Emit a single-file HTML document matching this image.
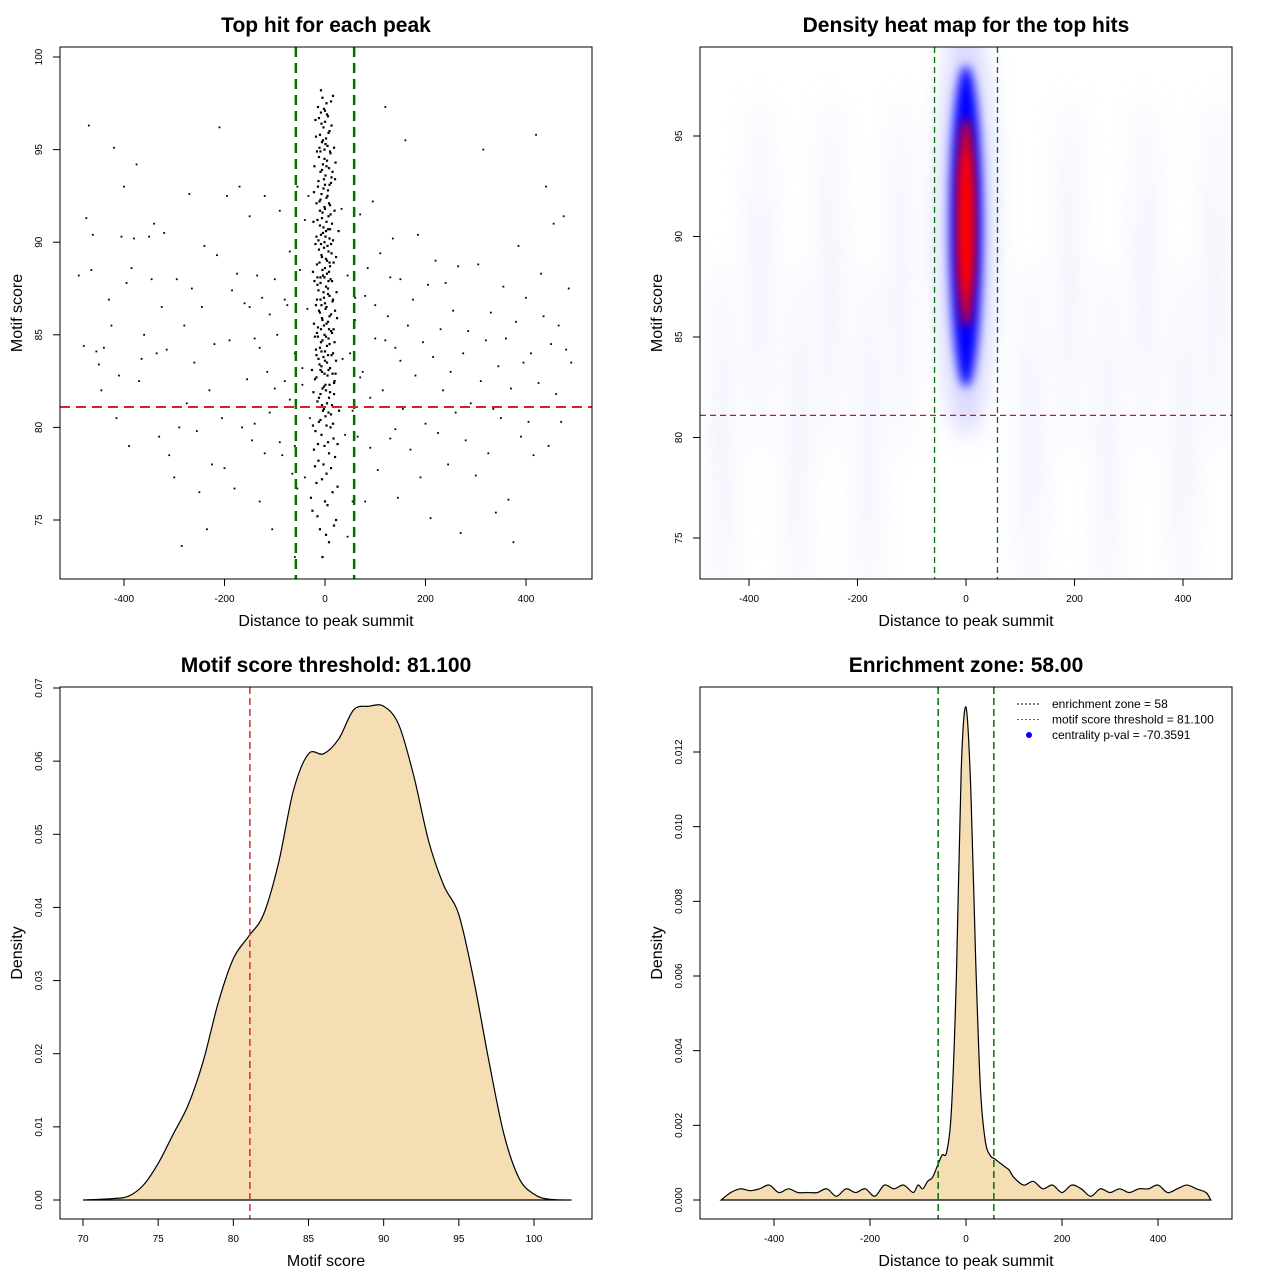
<!DOCTYPE html>
<html><head><meta charset="utf-8"><style>
body{margin:0;background:#fff;}
svg text{font-family:"Liberation Sans",sans-serif;}
</style></head><body>
<svg id="chart" width="1280" height="1280" viewBox="0 0 1280 1280" xmlns="http://www.w3.org/2000/svg">
<defs>
<filter id="blur1" x="-100%" y="-100%" width="300%" height="300%"><feGaussianBlur stdDeviation="5"/></filter>
<filter id="blur2" x="-100%" y="-100%" width="300%" height="300%"><feGaussianBlur stdDeviation="12"/></filter>
<clipPath id="clip2"><rect x="700" y="47" width="532" height="532"/></clipPath>
</defs>
<rect width="1280" height="1280" fill="#fff"/>
<g id="root"></g>
</svg>
<script>
// ---------- Data ----------
const scatterBg = "-490 88.2,-480 84.4,-475 91.3,-470 96.3,-465 88.5,-462 90.4,-455 84.1,-450 83.4,-445 82,-440 84.3,-430 86.9,-425 85.5,-420 95.1,-415 80.5,-410 82.8,-405 90.3,-400 93,-395 87.8,-390 79,-385 88.6,-380 90.2,-375 94.2,-370 82.5,-365 83.7,-360 85,-350 90.3,-345 88,-340 91,-335 84,-330 79.5,-325 86.5,-320 90.5,-315 84.2,-310 78.5,-300 77.3,-295 88,-290 80,-285 73.6,-280 85.5,-275 81.3,-270 92.6,-265 87.5,-260 83.5,-255 79.8,-250 76.5,-245 86.5,-240 89.8,-235 74.5,-230 82,-225 78,-220 84.5,-215 89.3,-210 96.2,-205 80.5,-200 77.8,-195 92.5,-190 84.7,-185 87.4,-180 76.7,-175 88.3,-170 93,-165 80,-160 86.7,-155 82.6,-150 91.4,-145 79.3,-140 84.8,-135 88.2,-130 76,-125 87,-120 92.5,-115 83,-110 80.8,-105 74.5,-100 88,-95 85,-90 91.7,-85 78.5,-80 82.5,-75 86.6,-70 89.5,-65 77.5,-60 84,-55 93,60 87,65 79.5,70 91.5,75 83,80 76,85 88.6,90 81.6,95 92.2,100 84.8,105 77.7,110 89.4,115 82,120 97.3,125 86,130 79.4,135 90.2,140 84.3,145 76.2,150 88,155 81,160 95.5,165 85.5,170 78.8,175 86.9,180 82.8,185 90.4,190 77.3,195 84.6,200 80.2,205 87.7,210 75.1,215 83.8,220 89,225 79.7,230 85.3,235 82,240 87.8,245 78,250 83,255 86.3,260 80.8,265 88.7,270 74.3,275 84,280 79.3,285 85.2,290 81.3,300 77.4,305 88.8,310 82.5,315 95,320 84.7,325 78.6,330 86.2,335 81,340 75.4,345 83.3,350 80.5,355 87.6,360 84.8,365 76.1,370 82.1,375 73.8,380 85.7,385 89.8,390 79.5,395 83.5,400 87,405 80.3,410 84,415 78.5,420 95.8,425 82.4,430 88.3,435 86,440 93,445 79,450 84.5,455 91,460 81.8,465 85.5,470 80.3,475 91.4,480 84.2,485 87.5,490 83.5,-150 86.5,-140 80.2,-130 84.3,-120 78.6,-110 86.1,-100 82.1,-90 79.2,-80 86.9,-70 81.5,-60 79,-50 88.5,-45 83.2,-40 77.3,-35 86.4,-30 80.5,-40 91.2,-45 82.3,35 83.7,40 79.6,45 88.2,50 84,55 80.9,60 85.8,70 82.7,80 87.1,90 78.9,100 86.6,110 81.1,120 84.7,130 88.1,140 79.9,150 83.6,-55 76.7,55 76,-33 92.5,33 91.8,-60 73,45 74.1";
const scatterCenter = "-5 97.8,3 97.5,-8 97,6 96.8,0 96.5,-3 96.2,9 96,-10 95.8,2 95.6,-6 95.4,5 95.2,-1 95,11 94.8,-12 94.6,4 94.4,-4 94.2,8 94,-9 93.8,1 93.6,-2 93.4,12 93.2,-14 93,6 92.8,-7 92.6,3 92.4,-11 92.2,10 92,0 91.8,-5 91.6,7 91.4,-15 91.2,14 91,-3 90.8,2 90.6,-8 90.4,9 90.2,-1 90,5 89.8,-12 89.6,13 89.4,-6 89.2,4 89,-16 88.8,0 88.6,8 88.4,-4 88.2,11 88,-9 87.8,2 87.6,-13 87.4,6 87.2,-2 87,15 86.8,-7 86.6,1 86.4,-10 86.2,9 86,-5 85.8,3 85.6,-14 85.4,12 85.2,-1 85,7 84.8,-8 84.6,4 84.4,-18 84.2,16 84,-3 83.8,0 83.6,-11 83.4,10 83.2,-6 83,5 82.8,-20 82.6,18 82.4,-2 82.2,2 82,-9 81.8,8 81.6,-15 81.4,14 81.2,-4 80.9,1 80.6,-12 80.3,11 80,-7 79.6,6 79.2,-22 78.8,20 78.4,-3 78,3 77.5,-17 77,15 76.5,0 76,-25 75.5,22 75,-10 74.5,8 73.8,-5 73,-2 97.2,4 96.9,-7 96.4,7 95.9,-4 95.5,1 95.3,-11 95.1,10 94.9,-1 94.5,3 94.1,-6 93.9,13 93.5,-13 93.3,0 93.1,-3 92.9,5 92.5,-9 92.3,8 92.1,-1 91.9,11 91.5,-6 91.3,3 91.1,-10 90.9,6 90.7,-4 90.5,1 90.3,-13 90.1,12 89.9,-2 89.7,7 89.5,-7 89.3,2 89.1,-11 88.9,10 88.7,-5 88.5,4 88.3,-1 88.1,14 87.9,-15 87.7,6 87.5,-3 87.3,9 87.1,-9 86.9,0 86.7,3 86.5,-12 86.3,12 86.1,-6 85.9,6 85.7,-2 85.5,17 85.3,-16 85.1,2 84.9,-5 84.7,9 84.5,-10 84.3,0 84.1,13 83.9,-13 83.7,4 83.5,-7 83.3,7 83.1,-1 82.9,-17 82.7,19 82.5,1 82.3,-5 82.1,10 81.9,-12 81.6,4 81.3,-2 81,12 80.7,-9 80.4,3 80.1,-19 79.8,17 79.4,-1 79,8 78.6,-13 78.2,12 77.8,-6 77.2,25 76.8,-28 76.2,5 75.8,-15 75.2,18 74.7,2 74.2,-20 77.9,28 80.9,-26 83.1,24 85.9,-24 88.4,27 90.6,-22 92.7,21 94.3,-19 96.6,16 97.9,-8 98.2,0 97.1,-18 95.7,18 95.1,-21 94.1,20 93.4,-17 92.1,19 91.7,-23 91.1,22 89.2,-19 89.9,17 88.9,-21 87.9,23 87.3,-18 86.6,20 86.3,-22 85.6,19 84.6,-20 84.9,22 83.6,-17 83.9,21 82.9,-23 81.9,18 81.8,-14 79.1,16 80.2,-24 80.1,25 79.1,-16 94.9,15 93.8,-17 90.3,16 90.1,-15 88.1,16 86.9,-16 86.9,14 85.1,-14 84.9,15 82.9,-12 96.7,13 96.3,-14 97.3,12 97.6,-9 94.9,9 93.1,-10 91.7,10 90.7,-8 89.9,9 88.9,-9 88.1,7 87.9,-8 85.3,8 85.3,-7 84.1,6 83.9,-9 83.1,9 82.3,-6 81.2,7 80.8";
const scoreX = [70,72,73,74,75,76,77,78,79,80,81,82,83,84,85,86,87,88,89,90,91,92,93,94,95,96,97,98,99,100,101,102.5];
const scoreD = [0,0.0002,0.0005,0.002,0.005,0.009,0.013,0.019,0.027,0.033,0.036,0.039,0.046,0.056,0.061,0.061,0.063,0.067,0.0675,0.0675,0.065,0.058,0.049,0.043,0.039,0.030,0.019,0.009,0.003,0.0008,0.0001,0];
const distX = [-510,-490,-470,-450,-430,-410,-390,-370,-350,-330,-310,-290,-270,-250,-230,-210,-190,-170,-150,-130,-110,-100,-90,-80,-70,-60,-50,-40,-30,-20,-10,0,10,20,30,40,50,60,70,80,90,100,120,140,160,180,200,220,240,260,280,300,320,340,360,380,400,420,440,460,480,500,510];
const distD = [0,0.0002,0.0003,0.00025,0.0003,0.0004,0.0002,0.0003,0.0002,0.0002,0.0002,0.0003,0.0001,0.0003,0.0002,0.0003,0.0001,0.0004,0.0003,0.0004,0.0002,0.0004,0.0003,0.0005,0.0006,0.0009,0.0012,0.0013,0.0025,0.006,0.0115,0.0132,0.011,0.0065,0.003,0.0016,0.0012,0.0011,0.001,0.0009,0.0008,0.0006,0.0004,0.0005,0.0003,0.0004,0.0002,0.0004,0.0003,0.0001,0.0003,0.0002,0.0003,0.0002,0.0003,0.0003,0.0004,0.0002,0.0003,0.0004,0.0003,0.0002,0];
const heatBlobs = [ // [x, y, rx(units), ry(units), color, opacity, blurKind]
 [0,90.5,50,10.5,"#c0c0ff",0.7,2],[0,90.5,30,8,"#0000ff",1,1],[0,90.7,16,5.2,"#ff0000",1,1],[0,90.7,8,3.5,"#ff0000",1,1]];
const bgStreaks = [-450,-380,-310,-250,-180,-120,120,190,260,330,400,460];
const xTicks1=[-400,-200,0,200,400], yTicks1=[75,80,85,90,95,100];
const yTicks2=[75,80,85,90,95];
const xTicks3=[70,75,80,85,90,95,100], yTicks3=[0,0.01,0.02,0.03,0.04,0.05,0.06,0.07];
const yTicks4=[0,0.002,0.004,0.006,0.008,0.010,0.012];
const yLab4=["0.000","0.002","0.004","0.006","0.008","0.010","0.012"];
const yLab3=["0.00","0.01","0.02","0.03","0.04","0.05","0.06","0.07"];

// ---------- Helpers ----------
const NS="http://www.w3.org/2000/svg";
const root=document.getElementById('root');
function el(tag,attrs,parent){const e=document.createElementNS(NS,tag);for(const k in attrs)e.setAttribute(k,attrs[k]);(parent||root).appendChild(e);return e;}
function txt(s,x,y,size,opts,parent){const t=el('text',Object.assign({x:x,y:y,'font-size':size,'text-anchor':'middle',fill:'#000'},opts||{}),parent);t.textContent=s;return t;}
function lin(d0,d1,p0,p1){return v=>p0+(v-d0)/(d1-d0)*(p1-p0);}
function parsePairs(s){return s.split(',').map(p=>p.trim().split(' ').map(Number));}

function panel(name,L,T,title,xlabel,ylabel,sx,sy,xt,xlab,yt,ylab){
  const g=el('g',{});
  
  
  const t=txt(title,L+266,T-15,21,{'font-weight':'bold'},g);
  
  
  const xl=txt(xlabel,L+266,T+579,16,{},g);
  
  
  const yl=txt(ylabel,0,0,16,{transform:`translate(${L-38},${T+266}) rotate(-90)`},g);
  
  
  xt.forEach((v,i)=>{const x=sx(v);el('line',{x1:x,x2:x,y1:T+532,y2:T+539,stroke:'#000'},g);
    const tl=txt(xlab?xlab[i]:String(v),x,T+555,10,{},g);
    
    });
  yt.forEach((v,i)=>{const y=sy(v);el('line',{x1:L-7,x2:L,y1:y,y2:y,stroke:'#000'},g);
    const tl=txt(ylab?ylab[i]:String(v),0,0,10,{transform:`translate(${L-18},${y}) rotate(-90)`},g);
    
    });
  return g;
}
function frame(L,T,g){const r=el('rect',{x:L,y:T,width:532,height:532,fill:'none',stroke:'#000','stroke-width':1},g);
  
  }

// ---------- Panel 1 ----------
{const L=60,T=47;
 const sx=lin(0,400,325,526), sy=lin(100,75,57,520);
 const g=panel('scatter-panel',L,T,'Top hit for each peak','Distance to peak summit','Motif score',sx,sy,xTicks1,null,yTicks1,null);
 parsePairs(scatterBg).forEach(p=>{const c=el('rect',{x:sx(p[0])-0.9,y:sy(p[1])-0.9,width:1.8,height:1.8,fill:'#000'},g);
   
   });
 parsePairs(scatterCenter).forEach(p=>{const c=el('rect',{x:sx(p[0])-1.1,y:sy(p[1])-1.1,width:2.2,height:2.2,fill:'#000'},g);
   
   });
 [-58,58].forEach(v=>{const l=el('line',{x1:sx(v),x2:sx(v),y1:T,y2:T+532,stroke:'#007000','stroke-width':2.5,'stroke-dasharray':'10,6'},g);
   
   });
 const h=el('line',{x1:L,x2:L+532,y1:sy(81.1),y2:sy(81.1),stroke:'#e02020','stroke-width':2,'stroke-dasharray':'10,6'},g);
 
 
 frame(L,T,g);}

// ---------- Panel 2 ----------
{const L=700,T=47;
 const sx=lin(0,400,966,1183), sy=lin(95,75,136,538);
 const g=panel('heatmap-panel',L,T,'Density heat map for the top hits','Distance to peak summit','Motif score',sx,sy,xTicks1,null,yTicks2,null);
 const hg=el('g',{'clip-path':'url(#clip2)'},g);
 
 
 bgStreaks.forEach((v,i)=>{const e=el('ellipse',{cx:sx(v),cy:sy(i%2?88:80),rx:12,ry:180,fill:'#e8e8ff',opacity:0.55,filter:'url(#blur2)'},hg);
   
   });
 heatBlobs.forEach(b=>{const e=el('ellipse',{cx:sx(b[0]),cy:sy(b[1]),rx:sx(b[2])-sx(0),ry:sy(0)-sy(b[3]),fill:b[4],opacity:b[5],filter:b[6]==2?'url(#blur2)':'url(#blur1)'},hg);
   
   });
 [-58,58].forEach(v=>{const l=el('line',{x1:sx(v),x2:sx(v),y1:T,y2:T+532,stroke:'#007000','stroke-width':1.3,'stroke-dasharray':'6,4'},g);
   
   });
 const h=el('line',{x1:L,x2:L+532,y1:sy(81.1),y2:sy(81.1),stroke:'#b02030','stroke-width':1.3,'stroke-dasharray':'6,4'},g);
 
 
 frame(L,T,g);}

function areaPath(xs,ys,sx,sy){let d='M'+sx(xs[0])+','+sy(0);
  const pts=xs.map((x,i)=>[sx(x),sy(ys[i])]);
  d+=' L'+pts[0][0]+','+pts[0][1];
  for(let i=0;i<pts.length-1;i++){const p0=pts[Math.max(0,i-1)],p1=pts[i],p2=pts[i+1],p3=pts[Math.min(pts.length-1,i+2)];
    d+=` C${p1[0]+(p2[0]-p0[0])/6},${p1[1]+(p2[1]-p0[1])/6} ${p2[0]-(p3[0]-p1[0])/6},${p2[1]-(p3[1]-p1[1])/6} ${p2[0]},${p2[1]}`;}
  return d+' Z';}

// ---------- Panel 3 ----------
{const L=60,T=687;
 const sx=lin(70,100,83,534), sy=lin(0,0.07,1200,688);
 const g=panel('score-density-panel',L,T,'Motif score threshold: 81.100','Motif score','Density',sx,sy,xTicks3,null,yTicks3,yLab3);
 const p=el('path',{d:areaPath(scoreX,scoreD,sx,sy),fill:'#f5deb3',stroke:'#000','stroke-width':1.2},g);
 
 
 const l=el('line',{x1:sx(81.1),x2:sx(81.1),y1:T,y2:T+532,stroke:'#d03030','stroke-width':1.5,'stroke-dasharray':'7,4'},g);
 
 
 frame(L,T,g);}

// ---------- Panel 4 ----------
{const L=700,T=687;
 const sx=lin(0,400,966,1158), sy=lin(0,0.012,1200,752);
 const g=panel('distance-density-panel',L,T,'Enrichment zone: 58.00','Distance to peak summit','Density',sx,sy,xTicks1,null,yTicks4,yLab4);
 const p=el('path',{d:areaPath(distX,distD,sx,sy),fill:'#f5deb3',stroke:'#000','stroke-width':1.2},g);
 
 
 [-58,58].forEach(v=>{const l=el('line',{x1:sx(v),x2:sx(v),y1:T,y2:T+532,stroke:'#007000','stroke-width':1.5,'stroke-dasharray':'7,4'},g);
   
   });
 const lg=el('g',{},g);
 
 
 const rows=[['enrichment zone = 58','#000','line'],['motif score threshold = 81.100','#ff2020','line'],['centrality p-val = -70.3591','#0000ff','dot']];
 rows.forEach((r,i)=>{const y=704+i*15.5;
   if(r[2]==='line'){el('line',{x1:1017,x2:1041,y1:y,y2:y,stroke:r[1],'stroke-width':1,'stroke-dasharray':'2,2'},lg);}
   else{el('circle',{cx:1029,cy:y,r:3,fill:r[1]},lg);}
   const t=txt(r[0],1052,y+4,12,{'text-anchor':'start'},lg);
   
   });
 frame(L,T,g);}
</script>
</body></html>
